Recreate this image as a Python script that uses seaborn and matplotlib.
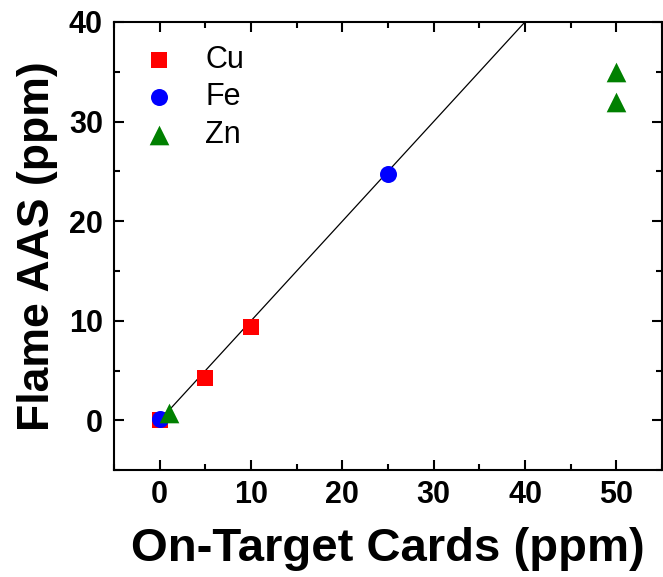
import matplotlib
matplotlib.use("Agg")
import matplotlib.pyplot as plt
import seaborn as sns
import pandas as pd
import numpy as np
from matplotlib.ticker import MultipleLocator

# Data
cu_x = [0, 5, 10]
cu_y = [0.0, 4.3, 9.4]
fe_x = [0, 25]
fe_y = [0.1, 24.7]
zn_x = [1, 50, 50]
zn_y = [0.7, 35.0, 32.0]
line_x = [0, 40]
line_y = [0, 40]

sns.set_theme(style="ticks")
plt.rcParams['font.family'] = ['Liberation Sans', 'DejaVu Sans']
plt.rcParams['text.color'] = 'black'
plt.rcParams['axes.labelcolor'] = 'black'
plt.rcParams['xtick.color'] = 'black'
plt.rcParams['ytick.color'] = 'black'

df = pd.DataFrame({
    "x": cu_x + fe_x + zn_x,
    "y": cu_y + fe_y + zn_y,
    "metal": ["Cu"] * len(cu_x) + ["Fe"] * len(fe_x) + ["Zn"] * len(zn_x),
})

fig = plt.figure(figsize=(6.63, 5.77), dpi=100)
ax = fig.add_axes([0.172, 0.185, 0.8265, 0.777])

sns.lineplot(x=line_x, y=line_y, ax=ax, color="black", linewidth=0.9, zorder=1)

palette = {"Cu": "#ff0000", "Fe": "#0000ff", "Zn": "#008000"}
markers = {"Cu": "s", "Fe": "o", "Zn": "^"}
sizes = {"Cu": 117, "Fe": 150, "Zn": 200}
for m in ["Cu", "Fe", "Zn"]:
    sub = df[df.metal == m]
    sns.scatterplot(data=sub, x="x", y="y", ax=ax, color=palette[m], marker=markers[m],
                    s=sizes[m], linewidth=0, label=m, zorder=3)

ax.set_xlim(-5, 55)
ax.set_ylim(-5, 40)
ax.xaxis.set_major_locator(MultipleLocator(10))
ax.xaxis.set_minor_locator(MultipleLocator(5))
ax.yaxis.set_major_locator(MultipleLocator(10))
ax.yaxis.set_minor_locator(MultipleLocator(5))
ax.tick_params(which="both", direction="in", top=True, right=True, width=1.5, colors="black")
ax.tick_params(which="major", length=7, labelsize=22)
ax.tick_params(axis="x", which="major", pad=7)
ax.tick_params(axis="y", which="major", pad=8)
ax.tick_params(which="minor", length=4)
for lab in ax.get_xticklabels() + ax.get_yticklabels():
    lab.set_fontweight("bold")
for sp in ax.spines.values():
    sp.set_linewidth(1.5)
    sp.set_color("black")

ax.set_xlabel("On-Target Cards (ppm)", fontsize=34, fontweight="bold", labelpad=12)
ax.set_ylabel("Flame AAS (ppm)", fontsize=32, fontweight="bold", labelpad=8)

leg = ax.legend(loc="upper left", bbox_to_anchor=(0.027, 0.949), frameon=False,
                fontsize=22, handletextpad=0.5, labelspacing=0.25,
                borderaxespad=0, borderpad=0)

fig.savefig("out.png", dpi=100)
